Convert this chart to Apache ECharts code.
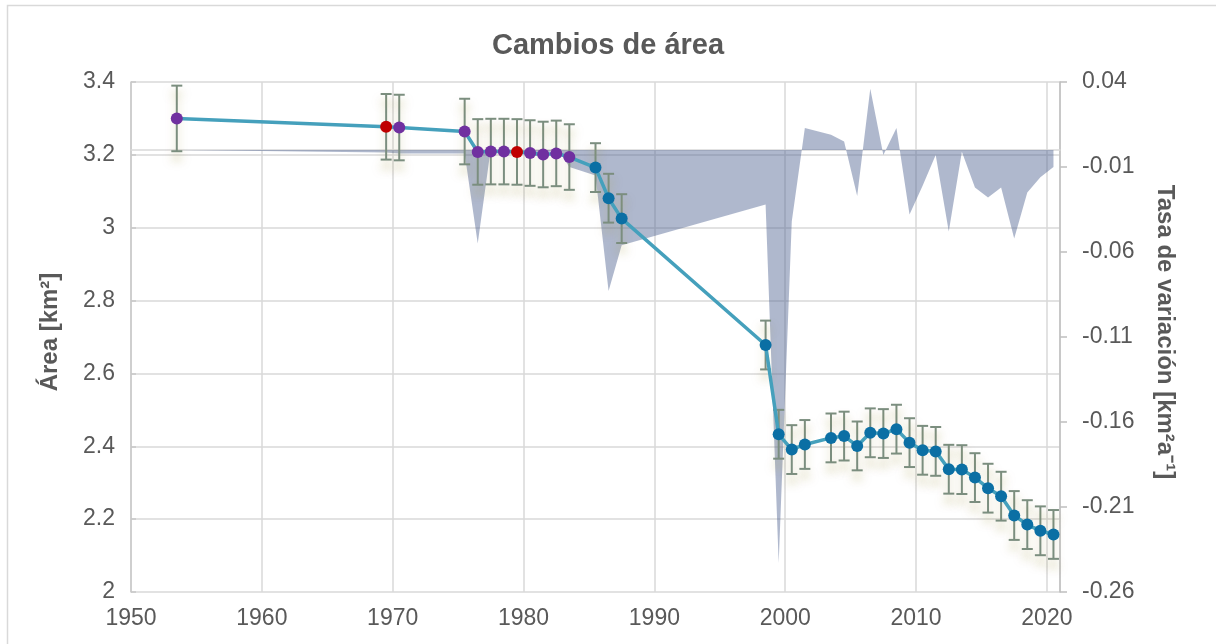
<!DOCTYPE html>
<html>
<head>
<meta charset="utf-8">
<script src="https://cdn.jsdelivr.net/npm/echarts@6/dist/echarts.min.js"></script>
<style>
  html, body { margin: 0; padding: 0; background: #fff; }
  #chart { width: 1216px; height: 644px; }
</style>
</head>
<body>
<div id="chart"></div>
<script>
// ---- data ----
const years = [1953.5, 1969.5, 1970.5, 1975.5, 1976.5, 1977.5, 1978.5, 1979.5, 1980.5, 1981.5, 1982.5, 1983.5,
  1985.5, 1986.5, 1987.5, 1998.5, 1999.5, 2000.5, 2001.5, 2003.5, 2004.5, 2005.5, 2006.5, 2007.5, 2008.5,
  2009.5, 2010.5, 2011.5, 2012.5, 2013.5, 2014.5, 2015.5, 2016.5, 2017.5, 2018.5, 2019.5, 2020.5];
const areaKm2 = [3.300, 3.277, 3.275, 3.264, 3.208, 3.209, 3.209, 3.208, 3.205, 3.201, 3.204, 3.194,
  3.165, 3.081, 3.025, 2.678, 2.433, 2.391, 2.405, 2.423, 2.428, 2.401, 2.437, 2.435, 2.447,
  2.410, 2.389, 2.386, 2.337, 2.336, 2.314, 2.285, 2.263, 2.210, 2.185, 2.168, 2.158];
const areaError = [0.09, 0.09, 0.09, 0.09, 0.09, 0.09, 0.09, 0.09, 0.09, 0.09, 0.09, 0.09,
  0.067, 0.067, 0.067, 0.067, 0.067, 0.067, 0.067, 0.067, 0.067, 0.067, 0.067, 0.067, 0.067,
  0.067, 0.067, 0.067, 0.067, 0.067, 0.067, 0.067, 0.067, 0.067, 0.067, 0.067, 0.067];
const pointGroup = ['g1', 'g2', 'g1', 'g1', 'g1', 'g1', 'g1', 'g2', 'g1', 'g1', 'g1', 'g1',
  'g3', 'g3', 'g3', 'g3', 'g3', 'g3', 'g3', 'g3', 'g3', 'g3', 'g3', 'g3', 'g3',
  'g3', 'g3', 'g3', 'g3', 'g3', 'g3', 'g3', 'g3', 'g3', 'g3', 'g3', 'g3'];
const rate = [0, -0.0015, -0.002, -0.002, -0.055, 0.001, -0.001, -0.001, -0.003, -0.004, 0.002, -0.010,
  -0.015, -0.083, -0.056, -0.032, -0.243, -0.042, 0.013, 0.009, 0.005, -0.027, 0.036, -0.003, 0.013,
  -0.038, -0.021, -0.003, -0.048, -0.001, -0.022, -0.028, -0.022, -0.052, -0.025, -0.016, -0.010];
const xTicks = [1950, 1960, 1970, 1980, 1990, 2000, 2010, 2020];
const leftTicks = [2, 2.2, 2.4, 2.6, 2.8, 3, 3.2, 3.4];
const rightTicks = [-0.26, -0.21, -0.16, -0.11, -0.06, -0.01, 0.04];

// ---- styles ----
const groupColor = { g1: '#7030A0', g2: '#C00000', g3: '#0B6FA4' };
const FONT = "'Liberation Sans', Arial, sans-serif";
const TXT = '#595959';

const chart = echarts.init(document.getElementById('chart'), null, { renderer: 'canvas' });

const lineData = years.map((t, i) => ({
  value: [t, areaKm2[i]],
  itemStyle: { color: groupColor[pointGroup[i]] }
}));
const errData = years.map((t, i) => [t, areaKm2[i], areaError[i]]);
const rateData = years.map((t, i) => [t, rate[i]]);

const option = {
  animation: false,
  backgroundColor: '#ffffff',
  title: {
    text: 'Cambios de área',
    left: 'center',
    top: 26,
    textStyle: { fontFamily: FONT, fontSize: 29, fontWeight: 'bold', color: TXT }
  },
  grid: { left: 131, right: 156, top: 82, bottom: 52, containLabel: false },
  xAxis: {
    type: 'value',
    min: 1950, max: 2021, interval: 10,
    axisLine: { show: true, lineStyle: { color: '#D9D9D9', width: 1.5 } },
    axisTick: { show: false },
    axisLabel: {
      customValues: xTicks,
      margin: 15, fontFamily: FONT, fontSize: 23, color: TXT,
      formatter: v => String(v)
    },
    splitLine: { show: true, lineStyle: { color: '#D9D9D9', width: 1.5 } }
  },
  yAxis: [
    {
      type: 'value', position: 'left',
      min: 2, max: 3.4, interval: 0.2,
      axisLine: { show: true, lineStyle: { color: '#C8C8C8', width: 1.5 } },
      axisTick: { show: true, inside: true, length: 5, lineStyle: { color: '#C8C8C8', width: 1.5 } },
      axisLabel: {
        customValues: leftTicks,
        margin: 16, fontFamily: FONT, fontSize: 23, color: TXT,
        formatter: v => String(Math.round(v * 10) / 10)
      },
      splitLine: { show: true, lineStyle: { color: '#D9D9D9', width: 1.5 } }
    },
    {
      type: 'value', position: 'right',
      min: -0.26, max: 0.04,
      axisLine: { show: true, lineStyle: { color: '#BFBFBF', width: 1.5 } },
      axisTick: { show: true, customValues: rightTicks, length: 7, lineStyle: { color: '#BFBFBF', width: 1.5 } },
      axisLabel: {
        customValues: rightTicks,
        margin: 22, fontFamily: FONT, fontSize: 23, color: TXT,
        formatter: v => v.toFixed(2)
      },
      splitLine: { show: false }
    }
  ],
  graphic: [
    {
      type: 'rect', silent: true, z: -10,
      shape: { x: 7.5, y: 5.5, width: 1300, height: 800 },
      style: { fill: 'none', stroke: '#D9D9D9', lineWidth: 1.5 }
    },
    {
      type: 'text', silent: true,
      x: 50, y: 332, rotation: Math.PI / 2,
      style: {
        text: 'Área [km²]', fontFamily: FONT, fontSize: 24, fontWeight: 'bold', fill: TXT,
        align: 'center', verticalAlign: 'middle'
      }
    },
    {
      type: 'text', silent: true,
      x: 1165, y: 332, rotation: -Math.PI / 2,
      style: {
        text: 'Tasa de variación [km²a⁻¹]', fontFamily: FONT, fontSize: 24, fontWeight: 'bold', fill: TXT,
        align: 'center', verticalAlign: 'middle'
      }
    }
  ],
  series: [
    {
      name: 'Tasa de variación',
      type: 'line',
      yAxisIndex: 1,
      data: rateData,
      symbol: 'none',
      lineStyle: { width: 0 },
      areaStyle: { color: 'rgba(72,91,140,0.62)', origin: 0 },
      z: 1
    },
    {
      name: 'Error',
      type: 'custom',
      yAxisIndex: 0,
      data: errData,
      encode: { x: 0, y: 1 },
      z: 2,
      renderItem: function (params, api) {
        const x = api.value(0), y = api.value(1), e = api.value(2);
        const top = api.coord([x, y + e]);
        const bot = api.coord([x, y - e]);
        const hw = 5.5;
        const st = {
          stroke: '#7B8E7F', lineWidth: 2,
          shadowBlur: 9, shadowColor: 'rgba(175,165,90,0.5)', shadowOffsetY: 8
        };
        return {
          type: 'group',
          children: [
            { type: 'line', shape: { x1: top[0], y1: top[1], x2: bot[0], y2: bot[1] }, style: st },
            { type: 'line', shape: { x1: top[0] - hw, y1: top[1], x2: top[0] + hw, y2: top[1] }, style: st },
            { type: 'line', shape: { x1: bot[0] - hw, y1: bot[1], x2: bot[0] + hw, y2: bot[1] }, style: st }
          ]
        };
      }
    },
    {
      name: 'Área',
      type: 'line',
      yAxisIndex: 0,
      data: lineData,
      symbol: 'circle',
      symbolSize: 12,
      lineStyle: { color: '#45A0BC', width: 3.5 },
      z: 3
    }
  ]
};
chart.setOption(option);
</script>
</body>
</html>
